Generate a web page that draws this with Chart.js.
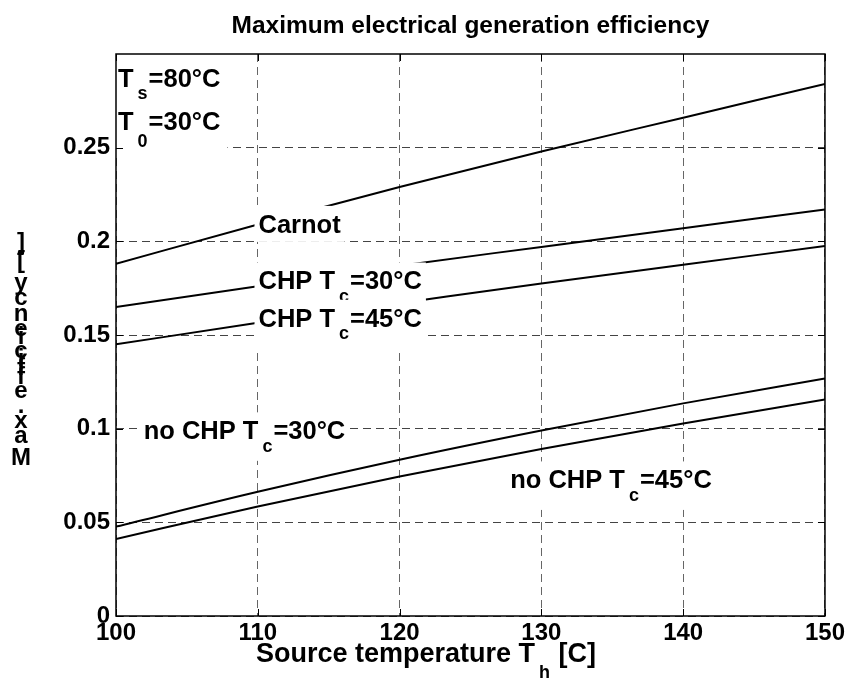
<!DOCTYPE html>
<html>
<head>
<meta charset="utf-8">
<script src="https://cdn.jsdelivr.net/npm/chart.js@4.4.1/dist/chart.umd.min.js"></script>
<style>
  html, body { margin: 0; padding: 0; background: #fff; }
  canvas { display: block; }
</style>
</head>
<body>
<canvas id="chart" width="848" height="681"></canvas>
<script>
// values
const temps = [100, 110, 120, 130, 140, 150];
const carnot = [0.188, 0.209, 0.229, 0.248, 0.266, 0.284];
const chp30 = [0.165, 0.176, 0.187, 0.197, 0.207, 0.217];
const chp45 = [0.145, 0.1565, 0.167, 0.1775, 0.1875, 0.1975];
const noChp30 = [0.0477, 0.0663, 0.0834, 0.0990, 0.1135, 0.1268];
const noChp45 = [0.0411, 0.0585, 0.0745, 0.0891, 0.1027, 0.1156];

const xTicks = [100, 110, 120, 130, 140, 150];
const yTicks = [0, 0.05, 0.1, 0.15, 0.2, 0.25];
const yTickLabels = ['0', '0.05', '0.1', '0.15', '0.2', '0.25'];

const FONT = '"Liberation Sans", Arial, Helvetica, sans-serif';

// text annotations, anchored in data coordinates (left / baseline)
const notes = [
  { x: 100.14, y: 0.2826, parts: [['T'], ['s', 1], ['=80°C']], padR: 7 },
  { x: 100.14, y: 0.2593, parts: [['T'], ['0', 1], ['=30°C']], padR: 7, subDy: 17 },
  { x: 110.05, y: 0.2045, parts: [['Carnot']] },
  { x: 110.05, y: 0.1743, parts: [['CHP T'], ['c', 1], ['=30°C']] },
  { x: 110.05, y: 0.1544, parts: [['CHP T'], ['c', 1], ['=45°C']] },
  { x: 101.95, y: 0.0943, parts: [['no CHP T'], ['c', 1], ['=30°C']] },
  { x: 127.8, y: 0.0681, parts: [['no CHP T'], ['c', 1], ['=45°C']] }
];

function toPoints(ys) {
  return temps.map((t, i) => ({ x: t, y: ys[i] }));
}

function drawParts(ctx, parts, px, py, mainSize, subDy) {
  let w = 0;
  const pieces = [];
  parts.forEach(([s, sub]) => {
    ctx.font = 'bold ' + (sub ? 18 : mainSize) + 'px ' + FONT;
    if (sub) w += 4;
    pieces.push({ s, sub, dx: w });
    w += ctx.measureText(s).width;
    if (sub) w += 1;
  });
  return { w, pieces, draw() {
    ctx.fillStyle = '#000';
    ctx.textAlign = 'left';
    ctx.textBaseline = 'alphabetic';
    pieces.forEach(p => {
      ctx.font = 'bold ' + (p.sub ? 18 : mainSize) + 'px ' + FONT;
      ctx.fillText(p.s, px + p.dx, py + (p.sub ? subDy : 0));
    });
  } };
}

const matlabLook = {
  id: 'matlabLook',
  beforeDraw(chart) {
    const ctx = chart.ctx;
    ctx.save();
    ctx.fillStyle = '#fff';
    ctx.fillRect(0, 0, chart.width, chart.height);
    ctx.restore();
  },
  afterDatasetsDraw(chart) {
    const { ctx, chartArea: a, scales: { x, y } } = chart;
    ctx.save();
    ctx.beginPath();
    ctx.rect(a.left, a.top, a.right - a.left, a.bottom - a.top);
    ctx.clip();
    notes.forEach(n => {
      const px = x.getPixelForValue(n.x);
      const py = y.getPixelForValue(n.y);
      const subDy = n.subDy || 12.5;
      const t = drawParts(ctx, n.parts, px, py, 25.5, subDy);
      const hasSub = n.parts.some(p => p[1]);
      const top = py - 27;
      const bottom = py + (hasSub ? subDy : 0) + 9;
      ctx.fillStyle = '#fff';
      ctx.fillRect(px - 4, top, t.w + 4 + (n.padR || 4), bottom - top);
      t.draw();
    });
    ctx.restore();

    // box and inward ticks
    ctx.save();
    ctx.strokeStyle = '#000';
    ctx.lineWidth = 1.5;
    ctx.strokeRect(a.left, a.top, a.right - a.left, a.bottom - a.top);
    ctx.beginPath();
    x.ticks.forEach(tk => {
      const px = Math.round(x.getPixelForValue(tk.value)) + 0.5;
      ctx.moveTo(px, a.bottom); ctx.lineTo(px, a.bottom - 7);
      ctx.moveTo(px, a.top); ctx.lineTo(px, a.top + 7);
    });
    y.ticks.forEach(tk => {
      const py = Math.round(y.getPixelForValue(tk.value)) + 0.5;
      ctx.moveTo(a.left, py); ctx.lineTo(a.left + 7, py);
      ctx.moveTo(a.right, py); ctx.lineTo(a.right - 7, py);
    });
    ctx.lineWidth = 1;
    ctx.stroke();
    ctx.restore();
  },
  afterDraw(chart) {
    const { ctx, chartArea: a } = chart;
    ctx.save();
    ctx.fillStyle = '#000';
    // title
    ctx.font = 'bold 24.5px ' + FONT;
    ctx.textAlign = 'center';
    ctx.textBaseline = 'alphabetic';
    ctx.fillText('Maximum electrical generation efficiency', (a.left + a.right) / 2, 33);

    // x axis label
    drawParts(ctx, [['Source temperature T'], ['h', 1], [' [C]']], 256, 662, 27, 16).draw();

    // y axis label, upright glyphs stacked bottom to top
    const ylab = 'Max. efficiency [-]';
    ctx.font = 'bold 24px ' + FONT;
    ctx.textAlign = 'center';
    let cum = 0;
    for (const ch of ylab) {
      ctx.fillText(ch, 21, 465 - cum * 1.11);
      cum += ctx.measureText(ch).width;
    }
    ctx.restore();
  }
};

const lineDs = (data) => ({
  data: toPoints(data),
  borderColor: '#000',
  borderWidth: 2,
  pointRadius: 0,
  fill: false,
  cubicInterpolationMode: 'monotone'
});

new Chart(document.getElementById('chart'), {
  type: 'line',
  data: {
    datasets: [
      lineDs(carnot),
      lineDs(chp30),
      lineDs(chp45),
      lineDs(noChp30),
      lineDs(noChp45)
    ]
  },
  options: {
    responsive: false,
    animation: false,
    devicePixelRatio: 1,
    layout: { padding: { top: 54, right: 22, bottom: 0, left: 0 } },
    plugins: {
      legend: { display: false },
      tooltip: { enabled: false },
      title: { display: false }
    },
    scales: {
      x: {
        type: 'linear',
        min: 100,
        max: 150,
        afterFit: s => { s.height = 65; },
        afterBuildTicks: s => { s.ticks = xTicks.map(v => ({ value: v })); },
        ticks: {
          color: '#000',
          font: { family: FONT, size: 24, weight: 'bold' },
          padding: 3,
          maxRotation: 0,
          autoSkip: false
        },
        grid: { color: '#666', lineWidth: 1, drawTicks: false },
        border: { display: false, dash: [8, 5] }
      },
      y: {
        type: 'linear',
        min: 0,
        max: 0.3,
        afterFit: s => { s.width = 116; },
        afterBuildTicks: s => { s.ticks = yTicks.map(v => ({ value: v })); },
        ticks: {
          color: '#000',
          font: { family: FONT, size: 24, weight: 'bold' },
          padding: 6,
          callback: (v, i) => yTickLabels[i]
        },
        grid: { color: '#444', lineWidth: 1, drawTicks: false },
        border: { display: false, dash: [8, 5] }
      }
    }
  },
  plugins: [matlabLook]
});
</script>
</body>
</html>
